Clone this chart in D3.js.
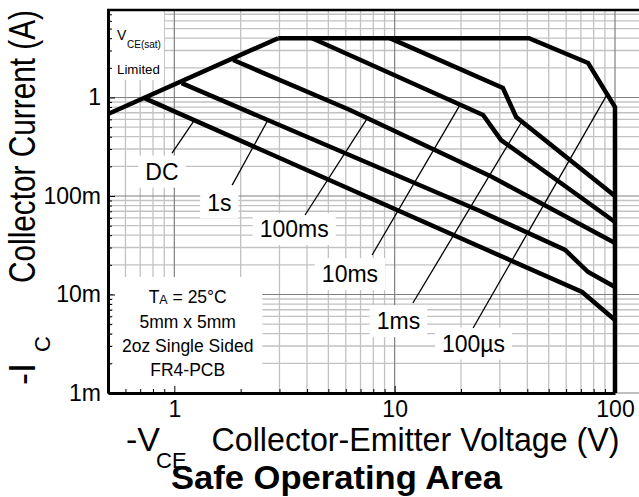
<!DOCTYPE html>
<html>
<head>
<meta charset="utf-8">
<script src="https://cdn.jsdelivr.net/npm/d3@7"></script>
<style>
  body { margin: 0; background: #fff; }
  svg { display: block; font-family: "Liberation Sans", Arial, sans-serif; }
  .narrow { font-family: "Liberation Sans Narrow", "Arial Narrow", "Liberation Sans", Arial, sans-serif; }
</style>
</head>
<body>
<svg width="639" height="497"></svg>
<script>
// boundaries of the safe operating area, [-Vce (V), -Ic (A)]
const satLimit = [[0.5, 0.68], [2.96, 4]];
const soa100us = [[2.96, 4], [40.7, 4], [75.5, 2.24], [100, 0.8], [100, 0.001]];
const soa1ms = [[9.5, 4], [31, 1.25], [35.6, 0.634], [100, 0.1]];
const soa10ms = [[4.22, 4], [25.2, 0.664], [30.4, 0.37], [100, 0.0545]];
const soa100ms = [[1.85, 2.4], [6.27, 0.747], [27.1, 0.16], [100, 0.0333]];
const soa1s = [[1.08, 1.4], [24.4, 0.0704], [59.4, 0.0283], [75.5, 0.0169], [100, 0.0119]];
const soaDC = [[0.736, 0.98], [70.9, 0.0106], [100, 0.0055]];

// curve labels and their leader lines
const curveLabels = ['DC', '1s', '100ms', '10ms', '1ms', '100µs'];
const labelV = [0.879, 1.6, 3.5, 6.27, 10.4, 22.8];
const labelI = [0.177, 0.0859, 0.0462, 0.0161, 0.00538, 0.00318];
const leaderFrom = [[0.976, 0.273], [1.83, 0.129], [3.92, 0.0641], [7.9, 0.0252], [12.1, 0.0082], [22.7, 0.00457]];
const leaderTo = [[1.24, 0.6], [2.66, 0.59], [7.5, 0.61], [19.8, 0.84], [37.8, 0.57], [92, 1.07]];

// axes
const xMajor = [1, 10, 100];
const xMinor = [0.6, 0.7, 0.8, 0.9, 2, 3, 4, 5, 6, 7, 8, 9, 20, 30, 40, 50, 60, 70, 80, 90];
const xTickLabels = ['1', '10', '100'];
const yMajor = [0.001, 0.01, 0.1, 1];
const yMinor = [0.002, 0.003, 0.004, 0.005, 0.006, 0.007, 0.008, 0.009,
                0.02, 0.03, 0.04, 0.05, 0.06, 0.07, 0.08, 0.09,
                0.2, 0.3, 0.4, 0.5, 0.6, 0.7, 0.8, 0.9, 2, 3, 4, 5, 6, 7];
const yTickLabels = ['1m', '10m', '100m', '1'];

const conditions = ['5mm x 5mm', '2oz Single Sided', 'FR4-PCB'];

const svg = d3.select('svg');
const x = d3.scaleLog().domain([0.5, 100]).range([108, 615]);
const y = d3.scaleLog().domain([0.001, 7.73]).range([393, 10]);
const plotRight = 639;
const [yBottom, yTop] = y.range();
const xLeft = x.range()[0];

const gGrid = svg.append('g');
const gBoxes = svg.append('g');
const gCurves = svg.append('g');
const gText = svg.append('g');
const gAxes = svg.append('g');

// grid
gGrid.selectAll('line.vmin').data(xMinor).join('line')
  .attr('x1', d => x(d)).attr('x2', d => x(d))
  .attr('y1', yTop).attr('y2', yBottom)
  .attr('stroke', '#c2c2c2').attr('stroke-width', 1.3);
gGrid.selectAll('line.hmin').data(yMinor).join('line')
  .attr('x1', xLeft).attr('x2', plotRight)
  .attr('y1', d => y(d)).attr('y2', d => y(d))
  .attr('stroke', '#c2c2c2').attr('stroke-width', 1.3);
gGrid.selectAll('line.vmaj').data(xMajor).join('line')
  .attr('x1', d => x(d)).attr('x2', d => x(d))
  .attr('y1', yTop).attr('y2', yBottom)
  .attr('stroke', '#808080').attr('stroke-width', 1.2);
gGrid.selectAll('line.hmaj').data(yMajor).join('line')
  .attr('x1', xLeft).attr('x2', plotRight)
  .attr('y1', d => y(d)).attr('y2', d => y(d))
  .attr('stroke', '#808080').attr('stroke-width', 1.2);

// curves
const line = d3.line().x(d => x(d[0])).y(d => y(d[1]));
const curves = [satLimit, soa100us, soa1ms, soa10ms, soa100ms, soa1s, soaDC];
gCurves.selectAll('path').data(curves).join('path')
  .attr('d', line)
  .attr('fill', 'none')
  .attr('stroke', '#000')
  .attr('stroke-width', 4.5)
  .attr('stroke-linejoin', 'miter');

gCurves.selectAll('line.leader').data(leaderFrom).join('line')
  .attr('x1', d => x(d[0])).attr('y1', d => y(d[1]))
  .attr('x2', (d, i) => x(leaderTo[i][0])).attr('y2', (d, i) => y(leaderTo[i][1]))
  .attr('stroke', '#000').attr('stroke-width', 1.3);

// curve labels with white boxes
curveLabels.forEach((lab, i) => {
  let t = gText.append('text')
    .attr('x', x(labelV[i])).attr('y', y(labelI[i]))
    .attr('dy', '0.35em')
    .attr('text-anchor', 'middle')
    .attr('font-size', 23)
    .text(lab);
  let b = t.node().getBBox();
  gBoxes.append('rect')
    .attr('x', b.x - 7).attr('y', b.y - 3)
    .attr('width', b.width + 14).attr('height', b.height + 6)
    .attr('fill', '#fff');
});

// test conditions box
const condX = x(1.15);
const gCond = gText.append('g');
let ta = gCond.append('text').attr('x', condX).attr('y', 303)
  .attr('text-anchor', 'middle').attr('font-size', 17.5);
ta.append('tspan').text('T');
ta.append('tspan').attr('font-size', 12.5).attr('dy', 1).text('A');
ta.append('tspan').attr('dy', -1).text(' = 25°C');
gCond.selectAll('text.cond').data(conditions).join('text')
  .attr('class', 'cond')
  .attr('x', condX).attr('y', (d, i) => 328 + i * 24)
  .attr('text-anchor', 'middle').attr('font-size', 17.5)
  .text(d => d);
let cb = gCond.node().getBBox();
gBoxes.append('rect')
  .attr('x', cb.x - 9).attr('y', cb.y - 10)
  .attr('width', cb.width + 18).attr('height', yBottom - cb.y + 10)
  .attr('fill', '#fff');

// Vce(sat) limited box
const gSat = gText.append('g');
gSat.append('text').attr('x', 117).attr('y', 40).attr('font-size', 14).text('V');
gSat.append('text').attr('x', 127).attr('y', 48).attr('font-size', 10).text('CE(sat)');
gSat.append('text').attr('x', 117).attr('y', 74).attr('font-size', 13.3).text('Limited');
let sb = gSat.node().getBBox();
gBoxes.append('rect')
  .attr('x', xLeft).attr('y', yTop)
  .attr('width', sb.x + sb.width + 3 - xLeft).attr('height', sb.y + sb.height + 3 - yTop)
  .attr('fill', '#fff');

// axes
const yMinorAxis = d3.axisLeft(y).tickValues(yMinor).tickSize(-4).tickFormat('');
const yMajorAxis = d3.axisLeft(y).tickValues(yMajor).tickSize(-7).tickSizeOuter(0)
  .tickPadding(7).tickFormat(d => yTickLabels[yMajor.indexOf(d)]);
const xMinorAxis = d3.axisBottom(x).tickValues(xMinor).tickSize(-4).tickFormat('');
const xMajorAxis = d3.axisBottom(x).tickValues(xMajor).tickSize(-7).tickSizeOuter(0)
  .tickPadding(8).tickFormat(d => xTickLabels[xMajor.indexOf(d)]);

const gy1 = gAxes.append('g').attr('transform', `translate(${xLeft},0)`).call(yMinorAxis);
const gy2 = gAxes.append('g').attr('transform', `translate(${xLeft},0)`).call(yMajorAxis);
const gx1 = gAxes.append('g').attr('transform', `translate(0,${yBottom})`).call(xMinorAxis);
const gx2 = gAxes.append('g').attr('transform', `translate(0,${yBottom})`).call(xMajorAxis);
[gy1, gx1].forEach(g => g.select('.domain').remove());
[gy2, gx2].forEach(g => g.select('.domain').attr('stroke-width', 3));
gAxes.selectAll('.tick text').attr('font-size', 23).attr('font-family', null).attr('fill', '#000');
gAxes.selectAll('g').attr('font-family', null).attr('font-size', null);

gAxes.append('line')
  .attr('x1', xLeft - 1).attr('x2', plotRight)
  .attr('y1', yTop).attr('y2', yTop)
  .attr('stroke', '#000').attr('stroke-width', 2.5);

// axis titles
const gYT = svg.append('g').attr('transform', 'rotate(-90)').attr('class', 'narrow');
gYT.append('text').attr('x', -283).attr('y', 35).attr('font-size', 36)
  .attr('textLength', 273).attr('lengthAdjust', 'spacingAndGlyphs')
  .text('Collector Current (A)');
gYT.append('text').attr('x', -385).attr('y', 35).attr('font-size', 36).text('-I');
gYT.append('text').attr('x', -352).attr('y', 50).attr('font-size', 22).text('C');

const gXT = svg.append('g').attr('class', 'narrow');
gXT.append('text').attr('x', 126).attr('y', 451).attr('font-size', 34).text('-V');
gXT.append('text').attr('x', 156).attr('y', 468).attr('font-size', 22).text('CE');
gXT.append('text').attr('x', 211.5).attr('y', 451).attr('font-size', 33)
  .attr('textLength', 408).attr('lengthAdjust', 'spacingAndGlyphs')
  .text('Collector-Emitter Voltage (V)');

svg.append('text').attr('class', 'narrow')
  .attr('x', 171).attr('y', 489)
  .attr('font-size', 33).attr('font-weight', 'bold')
  .attr('textLength', 331).attr('lengthAdjust', 'spacingAndGlyphs')
  .text('Safe Operating Area');
</script>
</body>
</html>
